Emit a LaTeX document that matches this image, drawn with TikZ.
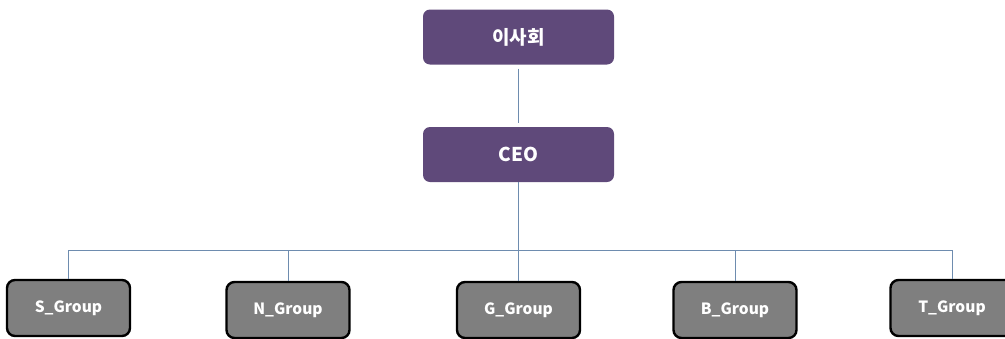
\documentclass[tikz,border=0pt]{standalone}
\usepackage{fontspec}
\setmainfont{Noto Sans CJK KR}
\definecolor{boardpurple}{RGB}{95,73,122}
\definecolor{groupgray}{RGB}{127,127,127}
\definecolor{linkblue}{RGB}{110,140,175}
\begin{document}
\begin{tikzpicture}[x=1pt,y=-1pt,
  topbox/.style={draw=none, fill=boardpurple, rounded corners=7pt, minimum width=191pt, minimum height=55pt, text=white, font=\fontsize{19}{22}\selectfont\bfseries, inner sep=0pt},
  groupbox/.style={draw=black, line width=2.4pt, fill=groupgray, rounded corners=8pt, minimum width=123pt, minimum height=56pt, text=white, font=\fontsize{15.5}{18}\selectfont\bfseries, inner sep=0pt},
  link/.style={draw=linkblue, line width=0.9pt}]
\useasboundingbox (0,0) rectangle (1005,338);
\clip (0,0) rectangle (1005,338);
\node[topbox] (board) at (518.5,37) {이사회};
\node[topbox] (ceo) at (518.5,154.5) {CEO};
\coordinate (hub) at (518.5,250);
\node[groupbox] (s) at (68.5,308) {S\_Group};
\node[groupbox] (n) at (288,310) {N\_Group};
\node[groupbox] (g) at (518.5,310) {G\_Group};
\node[groupbox] (b) at (735,310) {B\_Group};
\node[groupbox] (t) at (952,308) {T\_Group};
\draw[link, shorten <=4pt, shorten >=4pt] (board) -- (ceo);
\draw[link] (ceo) -- (hub);
\draw[link] (hub) -| (s);
\draw[link] (hub) -| (n);
\draw[link] (hub) -- (g);
\draw[link] (hub) -| (b);
\draw[link] (hub) -| (t);
\end{tikzpicture}
\end{document}
